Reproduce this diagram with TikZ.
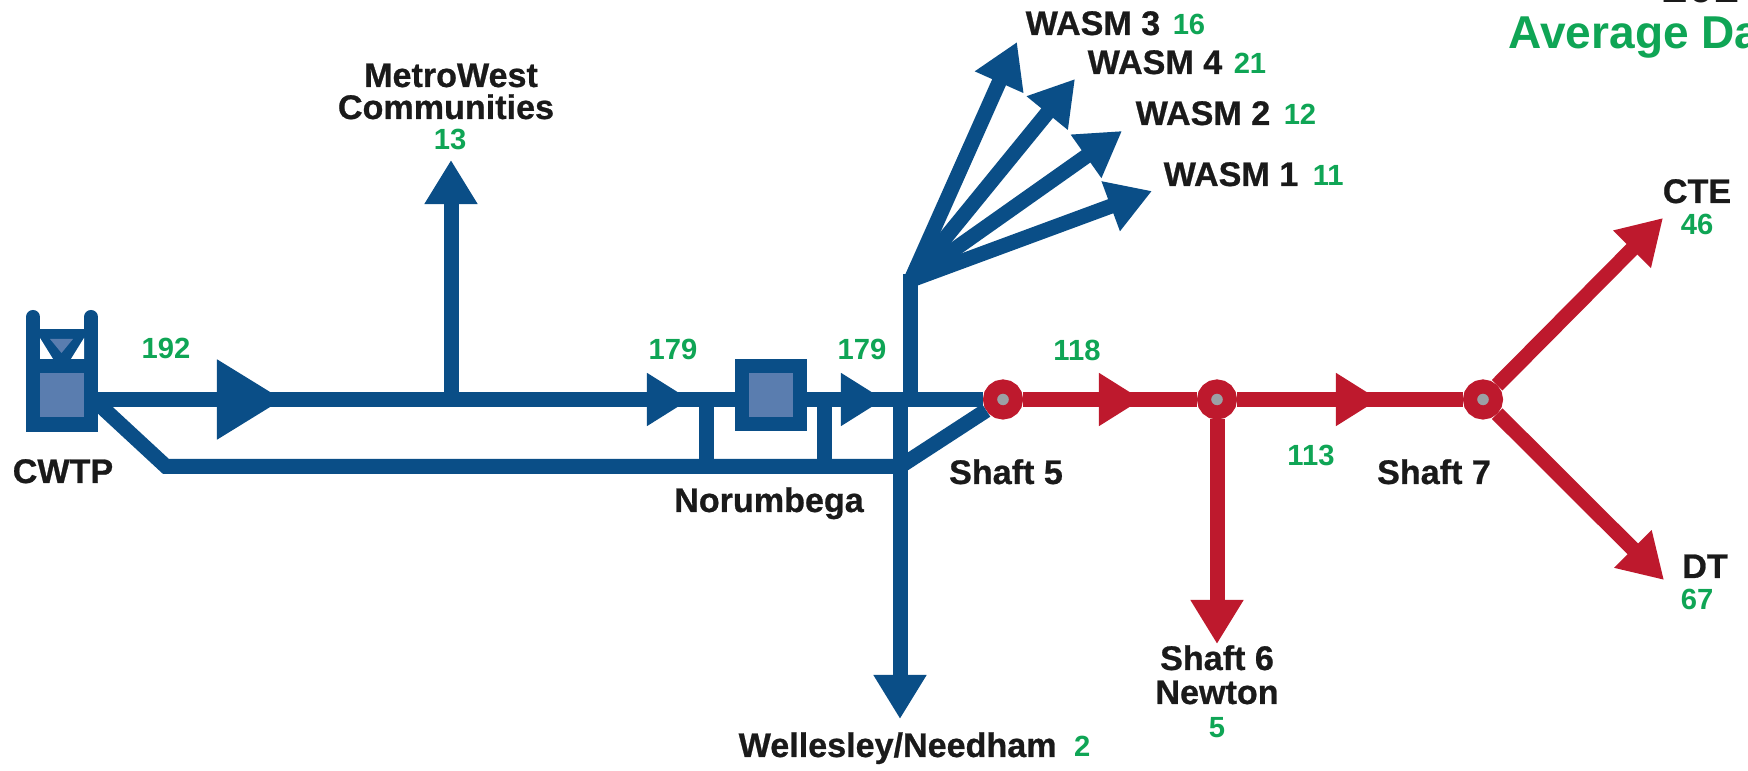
\documentclass[tikz,border=0pt]{standalone}
\usepackage{fontspec}
\usetikzlibrary{arrows.meta}
\setmainfont{Liberation Sans}
\newfontfamily\heavyfont[BoldFeatures={FakeBold=0.7}]{Liberation Sans}
\definecolor{pipeblue}{RGB}{10,78,135}
\definecolor{tanklight}{RGB}{90,125,175}
\definecolor{pipered}{RGB}{190,25,45}
\definecolor{flowgreen}{RGB}{15,165,85}
\definecolor{hubgrey}{RGB}{155,160,165}
\definecolor{inkblack}{RGB}{26,26,26}
\newcommand{\flownum}[1]{\textcolor{flowgreen}{\normalfont\bfseries\fontsize{8.3}{10}\selectfont #1}}
\tikzset{
    pipe/.style={draw=pipeblue, line width=0.15cm},
    redpipe/.style={draw=pipered, line width=0.15cm},
    bigtip/.style={-{Triangle[length=0.66cm, width=0.76cm]}},
    midtip/.style={-{Triangle[length=0.43cm, width=0.50cm]}},
    endtip/.style={-{Triangle[length=0.44cm, width=0.50cm]}},
    station/.style={draw=pipeblue, line width=0.14cm, fill=tanklight, inner sep=0pt, minimum width=0.58cm, minimum height=0.58cm},
    shafthub/.style={circle, draw=pipered, line width=0.14cm, fill=hubgrey, inner sep=0pt, minimum size=0.26cm},
    placename/.style={anchor=base, inner sep=0pt, text=inkblack, font=\heavyfont\bfseries\fontsize{9.7}{11}\selectfont},
    branchname/.style={placename, anchor=base west},
    flowlabel/.style={anchor=base, inner sep=0pt, text=flowgreen, font=\bfseries\fontsize{8.3}{10}\selectfont},
    titlegreen/.style={anchor=base west, inner sep=0pt, text=flowgreen, font=\bfseries\fontsize{13.1}{15}\selectfont}
}
\begin{document}
\begin{tikzpicture}[x=0.01cm, y=-0.01cm]
    \clip (0,0) rectangle (1748,771);
    \fill[white] (0,0) rectangle (1748,771);

    % Junctions along the main line
    \coordinate (mainstart) at (96,399.5);
    \coordinate (bigtip) at (283,399.5);
    \coordinate (mwjoin) at (451,399.5);
    \coordinate (midtipa) at (690,399.5);
    \coordinate (tiea) at (706.5,399.5);
    \coordinate (normleft) at (736,399.5);
    \coordinate (normright) at (806,399.5);
    \coordinate (tieb) at (824.5,399.5);
    \coordinate (midtipb) at (884,399.5);
    \coordinate (southjoin) at (900,399.5);
    \coordinate (fanfoot) at (910.5,399.5);
    \coordinate (fantop) at (910.5,274);
    \coordinate (fanhub) at (911,280);
    \coordinate (redtipa) at (1142,399.5);
    \coordinate (redtipb) at (1379,399.5);

    % Bypass line
    \coordinate (bypassstart) at (92,398);
    \coordinate (bypasscorner) at (166,466.5);
    \coordinate (tieabot) at (706.5,466.5);
    \coordinate (tiebbot) at (824.5,466.5);
    \coordinate (southbot) at (900,466.5);

    % Arrow ends
    \coordinate (mwend) at (451,160);
    \coordinate (southend) at (900,719);
    \coordinate (wasmthree) at (1017,42);
    \coordinate (wasmfour) at (1075,79);
    \coordinate (wasmtwo) at (1122,131);
    \coordinate (wasmone) at (1152,191);
    \coordinate (newtonend) at (1217,644);
    \coordinate (cteend) at (1663,218);
    \coordinate (dtend) at (1664,580);

    % Stations
    \node[station] (tankbody) at (62,395.5) {};
    \node[station] (norumbegabox) at (771,395) {};
    \node[shafthub] (shaftfive) at (1003,399.5) {};
    \node[shafthub] (shaftsix) at (1217,399.5) {};
    \node[shafthub] (shaftseven) at (1483,399.5) {};

    % Tank top
    \draw[pipe, line width=0.14cm, line cap=round] (33,359) -- (33,317);
    \draw[pipe, line width=0.14cm, line cap=round] (91,359) -- (91,317);
    \fill[pipeblue] (39,329) rectangle (85,360);
    \fill[white] (40,338) -- (40,359) -- (53,359) -- cycle;
    \fill[white] (84,338) -- (84,359) -- (71,359) -- cycle;
    \fill[tanklight] (50,339) -- (73,339) -- (61.5,353) -- cycle;

    % Blue lines
    \draw[pipe] (mainstart) -- (normleft);
    \draw[pipe] (normright) -- (shaftfive);
    \draw[pipe, bigtip] (mainstart) -- (bigtip);
    \draw[pipe, midtip] (mainstart) -- (midtipa);
    \draw[pipe, midtip] (normright) -- (midtipb);
    \draw[pipe, endtip] (mwjoin) -- (mwend);
    \draw[pipe] (bypassstart) -- (bypasscorner) -- (southbot) -- (shaftfive);
    \draw[pipe] (tiea) -- (tieabot);
    \draw[pipe] (tieb) -- (tiebbot);
    \draw[pipe, endtip] (southjoin) -- (southend);
    \draw[pipe] (fanfoot) -- (fantop);
    \draw[pipe, endtip] (fanhub) -- (wasmthree);
    \draw[pipe, endtip] (fanhub) -- (wasmfour);
    \draw[pipe, endtip] (fanhub) -- (wasmtwo);
    \draw[pipe, endtip] (fanhub) -- (wasmone);

    % Red lines
    \draw[redpipe] (shaftfive) -- (shaftsix);
    \draw[redpipe] (shaftsix) -- (shaftseven);
    \draw[redpipe, midtip] (shaftfive) -- (redtipa);
    \draw[redpipe, midtip] (shaftsix) -- (redtipb);
    \draw[redpipe, endtip] (shaftsix) -- (newtonend);
    \draw[redpipe, endtip] (shaftseven) -- (cteend);
    \draw[redpipe, endtip] (shaftseven) -- (dtend);

    % Place names
    \node[placename] (cwtp) at (63,483) {CWTP};
    \node[placename] (metrowest) at (451,87) {MetroWest};
    \node[placename] (communities) at (446,119) {Communities};
    \node[placename] (norumbega) at (769,512) {Norumbega};
    \node[placename] (shaftfivename) at (1006,484) {Shaft 5};
    \node[placename] (shaftsevenname) at (1434,484) {Shaft 7};
    \node[placename] (shaftsixname) at (1217,670) {Shaft 6};
    \node[placename] (newton) at (1217,704) {Newton};
    \node[placename] (ctename) at (1697,203) {CTE};
    \node[placename] (dtname) at (1705,578) {DT};
    \node[branchname] (wellesley) at (738,757) {Wellesley/Needham\hspace{0.08cm} \flownum{2}};
    \node[branchname] (wasmthreename) at (1025,35) {WASM 3\hspace{0.03cm} \flownum{16}};
    \node[branchname] (wasmfourname) at (1087,74) {WASM 4\hspace{0.02cm} \flownum{21}};
    \node[branchname] (wasmtwoname) at (1135,125) {WASM 2\hspace{0.04cm} \flownum{12}};
    \node[branchname] (wasmonename) at (1163,186) {WASM 1\hspace{0.05cm} \flownum{11}};

    % Flow numbers
    \node[flowlabel] (flowmain) at (166,359) {192};
    \node[flowlabel] (flowmw) at (450,150) {13};
    \node[flowlabel] (flownorma) at (673,360) {179};
    \node[flowlabel] (flownormb) at (862,360) {179};
    \node[flowlabel] (flowshaftfive) at (1077,361) {118};
    \node[flowlabel] (flowshaftsix) at (1311,466) {113};
    \node[flowlabel] (flownewton) at (1217,738) {5};
    \node[flowlabel] (flowcte) at (1697,235) {46};
    \node[flowlabel] (flowdt) at (1697,610) {67};

    % Heading cut by the page edge
    \node[titlegreen] (heading) at (1508,49) {Average Da};
    \node[titlegreen, text=inkblack] (headyear) at (1662,3) {201};
\end{tikzpicture}
\end{document}
